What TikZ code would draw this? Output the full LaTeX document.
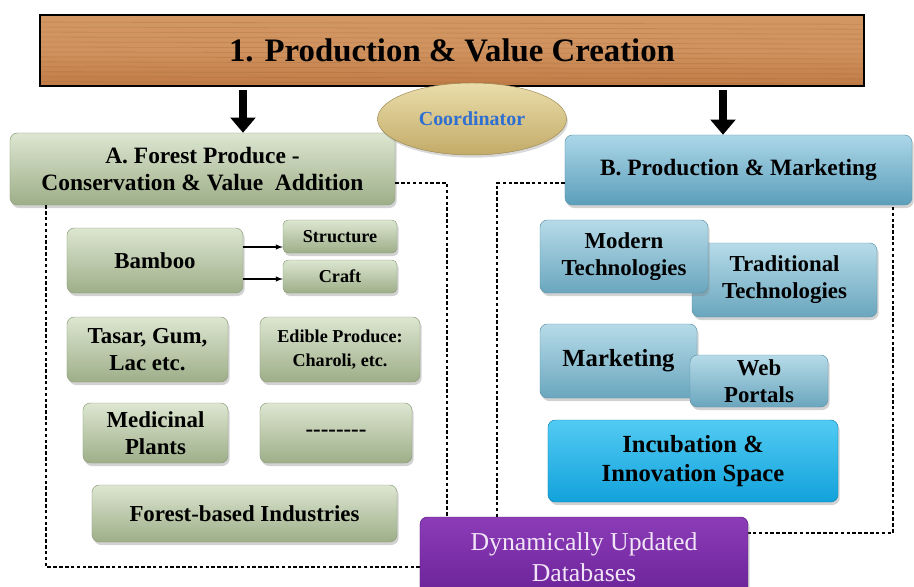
\documentclass[tikz,border=0pt]{standalone}
\usepackage{fontspec}
\setmainfont{Liberation Serif}
\usepackage{tikz}
\tikzset{>=latex}
\usetikzlibrary{shadows}
\usetikzlibrary{arrows.meta}
\usetikzlibrary{shapes.geometric}
\usetikzlibrary{calc}
\definecolor{woodtop}{HTML}{D39763}
\definecolor{woodbottom}{HTML}{C07B46}
\definecolor{woodgrain}{HTML}{8E5A30}
\definecolor{leaftop}{HTML}{DDE6D1}
\definecolor{leafbottom}{HTML}{9DAE88}
\definecolor{leafedge}{HTML}{8C9C78}
\definecolor{skytop}{HTML}{B6DBE8}
\definecolor{skybottom}{HTML}{6AA6BE}
\definecolor{skyedge}{HTML}{5E93A8}
\definecolor{headtop}{HTML}{ACD7E8}
\definecolor{headbottom}{HTML}{5B9EBA}
\definecolor{cyantop}{HTML}{52CBF3}
\definecolor{cyanbottom}{HTML}{12A2DB}
\definecolor{plumtop}{HTML}{8C3CB8}
\definecolor{plumbottom}{HTML}{6A2298}
\definecolor{plumtext}{HTML}{F1E4F6}
\definecolor{sandtop}{HTML}{EADDAA}
\definecolor{sandbottom}{HTML}{C3AB68}
\definecolor{coordblue}{HTML}{2F6FD2}

\tikzset{
  panel/.style={rounded corners=0.22cm, align=center, inner sep=2pt,
    drop shadow={shadow xshift=0.05cm, shadow yshift=-0.09cm, opacity=0.35}},
  greenbox/.style={panel, draw=leafedge, top color=leaftop, bottom color=leafbottom,
    font=\fontsize{19.5}{23}\selectfont\bfseries},
  smallgreen/.style={greenbox, font=\fontsize{15.5}{20}\selectfont\bfseries},
  bluebox/.style={panel, draw=skyedge, top color=skytop, bottom color=skybottom,
    font=\fontsize{19.5}{23}\selectfont\bfseries},
  dashline/.style={densely dashed, line width=0.9pt},
  bigarrow/.style={line width=6.5pt, -{Triangle[width=21pt,length=13pt]}, shorten <=3pt},
  woodgrains/.style={path picture={
    \foreach \gy in {0.1,0.17,...,0.95}
      \draw[woodgrain, opacity=0.22, line width=0.7pt]
        ($(path picture bounding box.north west)!\gy!(path picture bounding box.south west)$) --
        ($(path picture bounding box.north east)!\gy+0.03!(path picture bounding box.south east)$);}}
}

\begin{document}
\begin{tikzpicture}[x=0.03cm, y=-0.03cm]
\useasboundingbox (0,0) rectangle (914,587);
\fill[white] (0,0) rectangle (914,587);

% frames behind the boxes
\node[greenbox, minimum width=11.55cm, minimum height=2.16cm, font=\fontsize{20}{23}\selectfont\bfseries] (forest) at (202.5,169) {A. Forest Produce -\\Conservation \& Value~ Addition};
\node[panel, draw=skyedge, top color=headtop, bottom color=headbottom, minimum width=10.41cm, minimum height=2.1cm, font=\fontsize{20}{23}\selectfont\bfseries] (prodmkt) at (738.5,170) {B. Production \& Marketing};
\draw[dashline] (forest.east |- 0,183) -- (447,183) -- (447,567) -- (46,567) -- (forest.south -| 46,0);
\draw[dashline] (prodmkt.west |- 0,183) -- (497,183) -- (497,533) -- (893,533) -- (prodmkt.south -| 893,0);

\node[draw=black, line width=1.6pt, top color=woodtop, bottom color=woodbottom, middle color=woodtop!85!woodbottom, woodgrains, minimum width=24.72cm, minimum height=2.13cm, font=\fontsize{28}{32}\selectfont\bfseries] (title) at (452,50.5) {1. Production \& Value Creation};
\draw[bigarrow] (title.south -| 243,0) -- (forest.north -| 243,0);
\draw[bigarrow] (title.south -| 723,0) -- (prodmkt.north -| 723,0);
\node[ellipse, draw=sandbottom!80!black, top color=sandtop, bottom color=sandbottom, minimum width=5.67cm, minimum height=2.16cm, text=coordblue, font=\fontsize{17}{20}\selectfont\bfseries, drop shadow={shadow xshift=0.04cm, shadow yshift=-0.08cm, opacity=0.3}] (coord) at (472,119) {Coordinator};

% left column
\node[greenbox, minimum width=5.28cm, minimum height=1.95cm] (bamboo) at (155,260.5) {Bamboo};
\node[smallgreen, minimum width=3.42cm, minimum height=0.99cm, rounded corners=0.15cm] (structure) at (340,236.5) {Structure};
\node[smallgreen, minimum width=3.42cm, minimum height=0.99cm, rounded corners=0.15cm] (craft) at (340,276.5) {Craft};
\draw[->, line width=1pt] (bamboo.east |- 0,247) -- (structure.west |- 0,247);
\draw[->, line width=1pt] (bamboo.east |- 0,279) -- (craft.west |- 0,279);
\node[greenbox, minimum width=4.83cm, minimum height=1.95cm] (tasar) at (147.5,349.5) {Tasar, Gum,\\Lac etc.};
\node[smallgreen, minimum width=4.8cm, minimum height=1.95cm] (edible) at (340,349.5) {Edible Produce:\\Charoli, etc.};
\node[greenbox, minimum width=4.35cm, minimum height=1.8cm] (medicinal) at (155.5,433) {Medicinal\\Plants};
\node[greenbox, minimum width=4.56cm, minimum height=1.8cm] (other) at (336,433) {-{}-{}-{}-{}-{}-{}-{}-};
\node[greenbox, minimum width=9.15cm, minimum height=1.71cm] (industries) at (244.5,513.5) {Forest-based Industries};

% right column
\node[bluebox, minimum width=5.55cm, minimum height=2.22cm] (traditional) at (784.5,280) {Traditional\\Technologies};
\node[bluebox, minimum width=5.04cm, minimum height=2.19cm] (modern) at (624,256.5) {Modern\\Technologies};
\node[bluebox, minimum width=4.71cm, minimum height=2.22cm, font=\fontsize{21}{24}\selectfont\bfseries] (marketing) at (618.5,361) {Marketing};
\node[bluebox, minimum width=4.14cm, minimum height=1.56cm] (web) at (759,381) {Web\\Portals};
\node[panel, draw=cyanbottom!80!black, top color=cyantop, bottom color=cyanbottom, minimum width=8.7cm, minimum height=2.46cm, font=\fontsize{21}{25}\selectfont\bfseries] (incubation) at (693,461) {Incubation \&\\Innovation Space};

\node[panel, draw=plumbottom!80!black, top color=plumtop, bottom color=plumbottom, text=plumtext, minimum width=9.84cm, minimum height=2.4cm, font=\fontsize{22}{26}\selectfont] (databases) at (584,557) {Dynamically Updated\\Databases};
\end{tikzpicture}
\end{document}
